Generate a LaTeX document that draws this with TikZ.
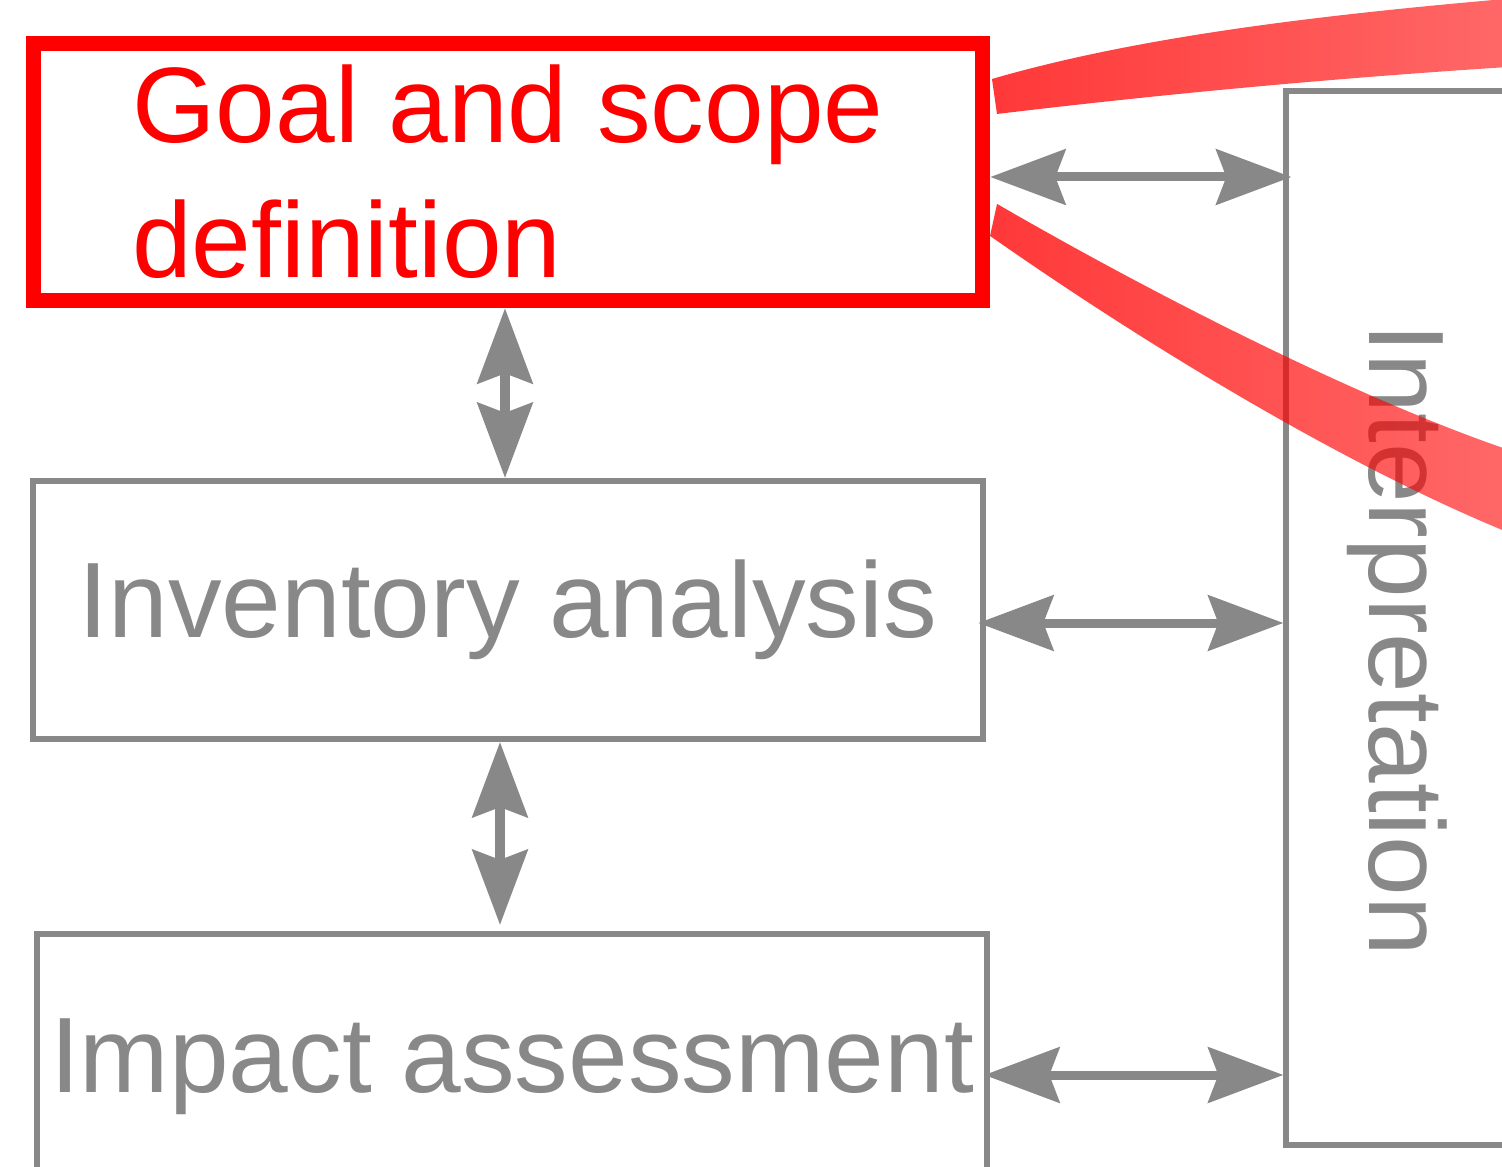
\documentclass[tikz,border=0pt]{standalone}
\usepackage{fontspec}
\setmainfont{Liberation Sans}
\usepackage{tikz}
\usetikzlibrary{arrows.meta,fadings}
\definecolor{lcagray}{RGB}{136,136,136}
\definecolor{lcared}{RGB}{255,0,0}
\tikzfading[name=bandfade, left color=transparent!22, right color=transparent!42]

\begin{document}
\begin{tikzpicture}[x=0.01cm, y=-0.01cm,
    stage/.style={draw=lcagray, line width=0.06cm, text=lcagray, inner sep=0pt, font=\fontsize{30.5}{38.4}\selectfont},
    link/.style={{Stealth[length=0.75cm, width=0.55cm, inset=0.1cm]}-{Stealth[length=0.75cm, width=0.55cm, inset=0.1cm]}, line width=0.09cm, draw=lcagray},
    band/.style={fill=lcared, path fading=bandfade}
]
\useasboundingbox (0,0) rectangle (1502,1167);
\clip (0,0) rectangle (1502,1167);

\node[stage, draw=lcared, text=lcared, line width=0.15cm, align=left, minimum width=9.49cm, minimum height=2.575cm] (goal) at (508,172) {Goal and scope\\definition};
\node[stage, minimum width=9.5cm, minimum height=2.58cm] (inv) at (508,610) {Inventory analysis};
\node[stage, minimum width=9.5cm, minimum height=2.66cm] (impact) at (512,1067) {Impact assessment};
\node[stage, minimum width=4.13cm, minimum height=10.53cm] (interp) at (1493,618) {};
\node[stage, draw=none, rotate=-90] (interplabel) at (1397,640) {Interpretation};

\draw[link, shorten >=-0.08cm] ([yshift=-0.05cm]goal.east) -- ([yshift=-0.05cm]goal.east -| interp.west);
\draw[link, shorten <=-0.08cm] ([yshift=-0.13cm]inv.east) -- ([yshift=-0.13cm]inv.east -| interp.west);
\draw[link, shorten <=-0.06cm] ([yshift=-0.08cm]impact.east) -- ([yshift=-0.08cm]impact.east -| interp.west);
\draw[link] ([xshift=-0.03cm]goal.south) -- ([xshift=-0.03cm]goal.south |- inv.north);
\draw[link, shorten >=0.06cm] ([xshift=-0.08cm]inv.south) -- ([xshift=-0.08cm]inv.south |- impact.north);

% zoom bands leaving the goal box
\fill[band] (992,79) .. controls (1150,33) and (1350,12) .. (1540,-4)
    -- (1540,65) .. controls (1360,76) and (1180,92) .. (997,114) -- cycle;
\fill[band] (997,204) .. controls (1180,310) and (1400,418) .. (1540,460)
    -- (1540,545) .. controls (1380,485) and (1170,362) .. (990,236) -- cycle;
\end{tikzpicture}
\end{document}
